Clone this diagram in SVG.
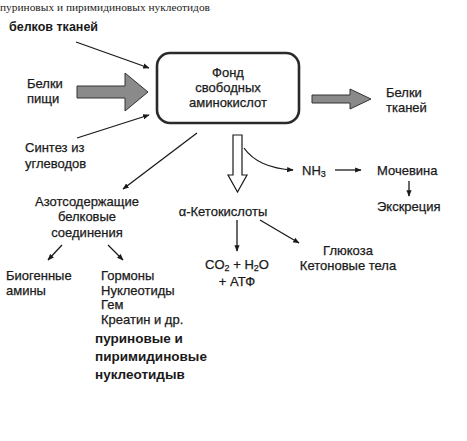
<svg xmlns="http://www.w3.org/2000/svg" width="467" height="441" viewBox="0 0 467 441">
<defs>
<style>
.t{font-family:"Liberation Sans",Arial,sans-serif;font-size:13px;fill:#1a1a1a;stroke:#1a1a1a;stroke-width:0.25}
.c{text-anchor:middle}
.ln{stroke:#1a1a1a;stroke-width:1.3;fill:none}
.big{fill:#8a8a8a;stroke:#333;stroke-width:1}
</style>
<marker id="ah" viewBox="0 0 10 10" refX="9" refY="5" markerWidth="5" markerHeight="5" orient="auto">
<path d="M0,1 L10,5 L0,9 Z" fill="#1a1a1a"/>
</marker>
</defs>
<rect width="467" height="441" fill="#fff"/>
<text x="0" y="11" style="font-family:'Liberation Serif','Times New Roman',serif;font-size:11.4px;fill:#222">пуриновых и пиримидиновых нуклеотидов</text>
<text x="9" y="31" class="t" style="font-weight:bold;font-size:12.5px;stroke:none">белков тканей</text>

<g id="fond">
<rect x="157" y="53" width="142" height="70" rx="13" fill="#fff" stroke="#2a2a2a" stroke-width="2.6"/>
<text x="228" y="77" class="t c">Фонд</text>
<text x="228" y="92" class="t c">свободных</text>
<text x="228" y="107" class="t c">аминокислот</text>
</g>
<g id="belki-pishchi"><text x="27" y="88" class="t">Белки</text><text x="27" y="103" class="t">пищи</text></g>
<g id="sintez"><text x="25" y="152" class="t">Синтез из</text><text x="25" y="168" class="t">углеводов</text></g>
<g id="belki-tkanei"><text x="386" y="97" class="t">Белки</text><text x="386" y="112" class="t">тканей</text></g>
<g id="nh3"><text x="302" y="175" class="t">NH<tspan font-size="9" dy="2">3</tspan></text></g>
<g id="mochevina"><text x="377" y="175" class="t">Мочевина</text></g>
<g id="ekskretsiya"><text x="377" y="211" class="t">Экскреция</text></g>
<g id="ketokisloty"><text x="223" y="216" class="t c">α-Кетокислоты</text></g>
<g id="co2"><text x="237" y="269" class="t c">CO<tspan font-size="9" dy="2">2</tspan><tspan dy="-2"> + H</tspan><tspan font-size="9" dy="2">2</tspan><tspan dy="-2">O</tspan></text><text x="237" y="286" class="t c">+ АТФ</text></g>
<g id="glyukoza"><text x="348" y="255" class="t c">Глюкоза</text><text x="348" y="270" class="t c">Кетоновые тела</text></g>
<g id="azot"><text x="87" y="206" class="t c">Азотсодержащие</text><text x="87" y="221" class="t c">белковые</text><text x="87" y="237" class="t c">соединения</text></g>
<g id="biogennye"><text x="6" y="280" class="t">Биогенные</text><text x="6" y="295" class="t">амины</text></g>
<g id="gormony"><text x="101" y="280" class="t">Гормоны</text><text x="101" y="295" class="t">Нуклеотиды</text><text x="101" y="309" class="t">Гем</text><text x="101" y="324" class="t">Креатин и др.</text></g>
<g id="note" style="font-family:'Liberation Sans',Arial,sans-serif;font-size:13.5px;font-weight:bold;fill:#1a1a1a">
<text x="95" y="343">пуриновые и</text><text x="95" y="361">пиримидиновые</text><text x="95" y="379">нуклеотидыв</text>
</g>

<g id="connectors">
<line x1="76" y1="42" x2="149" y2="68" class="ln" marker-end="url(#ah)"/>
<line x1="77" y1="138" x2="149" y2="115" class="ln" marker-end="url(#ah)"/>
<path d="M77,86 L125,86 L125,73 L148,92 L125,111 L125,98 L77,98 Z" class="big"/>
<path d="M312,95 L350,95 L350,89 L371,99 L350,109 L350,103 L312,103 Z" class="big"/>
<path d="M233,135 L242,135 L242,175 L247,175 L237.5,192 L228,175 L233,175 Z" fill="#fff" stroke="#1a1a1a" stroke-width="1.2"/>
<path d="M244,148 Q258,168 293,170" class="ln" marker-end="url(#ah)"/>
<line x1="335" y1="170" x2="361" y2="170" class="ln" marker-end="url(#ah)"/>
<line x1="409" y1="181" x2="409" y2="196" class="ln" marker-end="url(#ah)"/>
<line x1="197" y1="133" x2="123" y2="189" class="ln" marker-end="url(#ah)"/>
<line x1="237" y1="220" x2="237" y2="251" class="ln" marker-end="url(#ah)"/>
<line x1="260" y1="220" x2="299" y2="243" class="ln" marker-end="url(#ah)"/>
<line x1="62" y1="245" x2="48" y2="260" class="ln" marker-end="url(#ah)"/>
<line x1="108" y1="245" x2="123" y2="260" class="ln" marker-end="url(#ah)"/>
</g>
</svg>
